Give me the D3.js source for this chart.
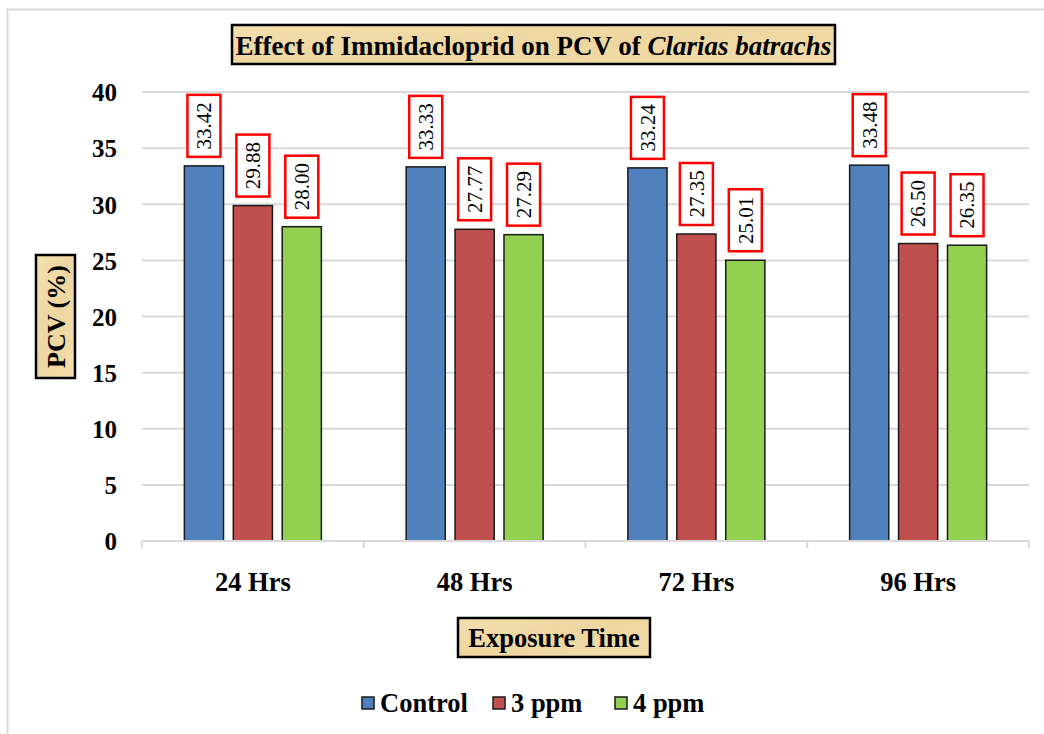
<!DOCTYPE html>
<html>
<head>
<meta charset="utf-8">
<script src="https://cdn.jsdelivr.net/npm/d3@7"></script>
<style>
  html, body { margin: 0; padding: 0; background: #fff; }
  svg { display: block; }
  svg text { font-family: 'Liberation Serif', 'Times New Roman', serif; }
</style>
</head>
<body>
<svg id="chart" width="1044" height="734"></svg>
<script>
// Exposure-time categories and the PCV (%) for each treatment
const categories = ["24 Hrs", "48 Hrs", "72 Hrs", "96 Hrs"];
const seriesNames = ["Control", "3 ppm", "4 ppm"];
const control = [33.42, 33.33, 33.24, 33.48];
const ppm3 = [29.88, 27.77, 27.35, 26.50];
const ppm4 = [28.00, 27.29, 25.01, 26.35];
const yTicks = [0, 5, 10, 15, 20, 25, 30, 35, 40];
const colors = ["#4F81BD", "#C0504D", "#92D050"];

const seriesValues = [control, ppm3, ppm4];
const FONT = "'Liberation Serif', 'Times New Roman', serif";

const svg = d3.select("#chart");

// papyrus-like fill for the title boxes
const defs = svg.append("defs");
const grad = defs.append("linearGradient").attr("id", "papyrus")
  .attr("x1", "0").attr("y1", "0").attr("x2", "1").attr("y2", "1");
grad.append("stop").attr("offset", "0%").attr("stop-color", "#F3DFAE");
grad.append("stop").attr("offset", "50%").attr("stop-color", "#EED6A0");
grad.append("stop").attr("offset", "100%").attr("stop-color", "#F2DDAA");

// outer chart frame
svg.append("path")
  .attr("d", "M7.5,734 V9.5 H1044")
  .attr("fill", "none").attr("stroke", "#D9D9D9").attr("stroke-width", 2);

const plot = { left: 142, right: 1029, top: 92, bottom: 541 };

const x0 = d3.scaleBand().domain(categories).range([plot.left, plot.right]).paddingInner(0).paddingOuter(0);
const x1 = d3.scaleBand().domain(seriesNames).range([0, 137]).paddingInner(0.2).paddingOuter(0);
const groupOffset = (x0.bandwidth() - 137) / 2;
const y = d3.scaleLinear().domain([0, 40]).range([plot.bottom, plot.top]);

// horizontal gridlines
svg.append("g").selectAll("line").data(yTicks.filter(d => d > 0)).join("line")
  .attr("x1", plot.left).attr("x2", plot.right)
  .attr("y1", d => y(d)).attr("y2", d => y(d))
  .attr("stroke", "#D9D9D9").attr("stroke-width", 2);

// y axis tick labels
const yAxis = d3.axisLeft(y).tickValues(yTicks).tickSize(0).tickPadding(0);
const yg = svg.append("g").attr("transform", `translate(${plot.left - 25},0)`).call(yAxis);
yg.attr("font-family", FONT);
yg.select(".domain").remove();
yg.selectAll("text")
  .attr("font-family", FONT)
  .attr("font-weight", "bold").attr("font-size", 25).attr("fill", "#000")
  .attr("dy", "0.35em");

// bars
const groups = svg.append("g").selectAll("g").data(categories).join("g")
  .attr("transform", d => `translate(${x0(d) + groupOffset},0)`);

groups.each(function (cat, ci) {
  const g = d3.select(this);
  seriesNames.forEach((s, si) => {
    const v = seriesValues[si][ci];
    const bx = x1(s), bw = x1.bandwidth();
    g.append("rect")
      .attr("x", bx).attr("y", y(v))
      .attr("width", bw).attr("height", y(0) - y(v))
      .attr("fill", colors[si]).attr("stroke", "#1a1a1a").attr("stroke-width", 1.5);
    // value label in a red-bordered box, rotated text
    const boxW = 33, boxH = 62;
    const cx = bx + bw / 2;
    const boxBottom = y(v) - 9;
    g.append("rect")
      .attr("x", cx - boxW / 2).attr("y", boxBottom - boxH)
      .attr("width", boxW).attr("height", boxH)
      .attr("fill", "#fff").attr("stroke", "#FF0000").attr("stroke-width", 2.5);
    g.append("text")
      .attr("transform", `translate(${cx},${boxBottom - boxH / 2}) rotate(-90)`)
      .attr("text-anchor", "middle").attr("dy", "0.35em")
      .attr("font-family", FONT)
      .attr("font-size", 21).attr("fill", "#000")
      .text(d3.format(".2f")(v));
  });
});

// x axis line and ticks
const xg = svg.append("g");
xg.append("line")
  .attr("x1", plot.left).attr("x2", plot.right)
  .attr("y1", plot.bottom).attr("y2", plot.bottom)
  .attr("stroke", "#D9D9D9").attr("stroke-width", 2);
const bounds = categories.map(c => x0(c)).concat([plot.right]);
xg.selectAll("line.tick").data(bounds).join("line").attr("class", "tick")
  .attr("x1", d => d).attr("x2", d => d)
  .attr("y1", plot.bottom).attr("y2", plot.bottom + 7)
  .attr("stroke", "#D9D9D9").attr("stroke-width", 2);
xg.selectAll("text").data(categories).join("text")
  .attr("x", d => x0(d) + x0.bandwidth() / 2).attr("y", 591)
  .attr("text-anchor", "middle")
  .attr("font-family", FONT)
  .attr("font-weight", "bold").attr("font-size", 26.5).attr("fill", "#000")
  .text(d => d);

// boxed labels with papyrus fill
function labelBox(x, yy, w, h) {
  svg.append("rect").attr("x", x).attr("y", yy).attr("width", w).attr("height", h)
    .attr("fill", "url(#papyrus)").attr("stroke", "#000").attr("stroke-width", 2.5);
}

// chart title
labelBox(232, 25, 603, 39);
const title = svg.append("text").attr("x", 533.5).attr("y", 55)
  .attr("text-anchor", "middle").attr("font-family", FONT)
  .attr("font-weight", "bold").attr("font-size", 27).attr("fill", "#000");
title.append("tspan").text("Effect of Immidacloprid on PCV of ");
title.append("tspan").attr("font-style", "italic").text("Clarias batrachs");

// y axis title
labelBox(36, 255, 39, 123);
svg.append("text")
  .attr("transform", "translate(56,316.5) rotate(-90)")
  .attr("text-anchor", "middle").attr("dy", "0.35em")
  .attr("font-family", FONT)
  .attr("font-weight", "bold").attr("font-size", 26).attr("fill", "#000")
  .text("PCV (%)");

// x axis title
labelBox(458, 618, 192, 39);
svg.append("text").attr("x", 554).attr("y", 647)
  .attr("text-anchor", "middle").attr("font-family", FONT)
  .attr("font-weight", "bold").attr("font-size", 26.5).attr("fill", "#000")
  .text("Exposure Time");

// legend
const legendX = [362, 493, 615];
const legend = svg.append("g").selectAll("g").data(seriesNames).join("g")
  .attr("transform", (d, i) => `translate(${legendX[i]},697)`);
legend.append("rect").attr("x", 0).attr("y", 0).attr("width", 12).attr("height", 12)
  .attr("fill", (d, i) => colors[i]).attr("stroke", "#1a1a1a").attr("stroke-width", 1.5);
legend.append("text").attr("x", 18).attr("y", 15)
  .attr("font-family", FONT)
  .attr("font-weight", "bold").attr("font-size", 26.5).attr("fill", "#000")
  .text(d => d);
</script>
</body>
</html>
